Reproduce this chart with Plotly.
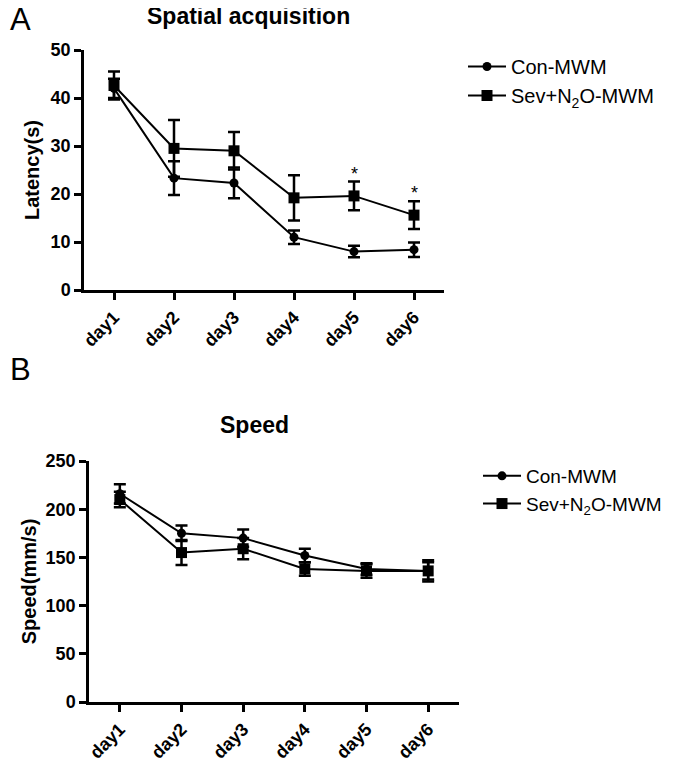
import plotly.graph_objects as go
from plotly.subplots import make_subplots

days = ["day1", "day2", "day3", "day4", "day5", "day6"]

# panel A: latency (s)
lat_con = [42.0, 23.3, 22.3, 11.0, 8.0, 8.4]
lat_con_err = [2.0, 3.5, 3.2, 1.4, 1.2, 1.5]
lat_sev = [42.6, 29.5, 29.0, 19.2, 19.6, 15.6]
lat_sev_err = [2.9, 5.9, 3.9, 4.7, 3.0, 2.9]
lat_star_days = ["day5", "day6"]

# panel B: speed (mm/s)
spd_con = [216, 175, 170, 152, 138, 136]
spd_con_err = [10, 8, 9, 7, 6, 11]
spd_sev = [210, 155, 159, 138, 136, 136]
spd_sev_err = [8, 13, 11, 7, 7, 9]

FONT = "Arial, Liberation Sans, sans-serif"
SEV = "Sev+N<sub>2</sub>O-MWM"

# page body has an 8px margin, so the figure is a bit smaller than the window
OFF = 8
W, H = 673 - OFF, 759 - OFF


def px(x):
    return (x - OFF) / W


def py(y):
    return 1 - (y - OFF) / H


fig = make_subplots(rows=2, cols=1)


def add_series(y, err, name, symbol, size, row, legend):
    fig.add_trace(go.Scatter(
        x=days, y=y, name=name, mode="lines+markers",
        line=dict(color="black", width=2),
        marker=dict(symbol=symbol, size=size, color="black"),
        error_y=dict(type="data", array=err, color="black", thickness=2.5, width=6),
        legend=legend,
    ), row=row, col=1)


add_series(lat_con, lat_con_err, "Con-MWM", "circle", 9, 1, "legend")
add_series(lat_sev, lat_sev_err, SEV, "square", 11, 1, "legend")
add_series(spd_con, spd_con_err, "Con-MWM", "circle", 9, 2, "legend2")
add_series(spd_sev, spd_sev_err, SEV, "square", 11, 2, "legend2")

# significance marks above the Sev error bars
for d in lat_star_days:
    i = days.index(d)
    fig.add_annotation(x=d, y=lat_sev[i] + lat_sev_err[i], xref="x", yref="y",
                       text="*", showarrow=False, yshift=8,
                       font=dict(family=FONT, size=18, color="black"))

axis_common = dict(
    showline=True, linecolor="black", linewidth=2.5, showgrid=False, zeroline=False,
    ticks="outside", ticklen=7, tickwidth=2.5, tickcolor="black", automargin=False,
    tickfont=dict(family=FONT, size=18, color="black", weight="bold"),
)
title_font = dict(family=FONT, size=20, color="black", weight="bold")

fig.update_xaxes(axis_common, range=[-0.5, 5.5], tickangle=-45)
fig.update_yaxes(axis_common)
fig.update_layout(
    xaxis=dict(domain=[px(84), px(444)]),
    yaxis=dict(domain=[py(290), py(50)], range=[0, 50], dtick=10,
               title=dict(text="Latency(s)", standoff=6, font=title_font)),
    xaxis2=dict(domain=[px(89), px(459)]),
    yaxis2=dict(domain=[py(702), py(461)], range=[0, 250], dtick=50,
                title=dict(text="Speed(mm/s)", standoff=4, font=title_font)),
    legend=dict(x=px(463), y=py(47), xanchor="left", yanchor="top", itemwidth=38,
                font=dict(family=FONT, size=20, color="black"), bgcolor="rgba(0,0,0,0)"),
    legend2=dict(x=px(478), y=py(457), xanchor="left", yanchor="top", itemwidth=38,
                 font=dict(family=FONT, size=19, color="black"), bgcolor="rgba(0,0,0,0)"),
    width=W, height=H,
    margin=dict(l=0, r=0, t=0, b=0),
    plot_bgcolor="white", paper_bgcolor="white",
    font=dict(family=FONT, color="black"),
    showlegend=True,
)

# titles and panel letters
fig.add_annotation(text="<b>Spatial acquisition</b>", x=px(248), y=py(16),
                   xref="paper", yref="paper", yanchor="middle", showarrow=False,
                   font=dict(family=FONT, size=23, color="black"))
fig.add_annotation(text="<b>Speed</b>", x=px(254), y=py(425),
                   xref="paper", yref="paper", yanchor="middle", showarrow=False,
                   font=dict(family=FONT, size=23, color="black"))
fig.add_annotation(text="A", x=0, y=py(19), xref="paper", yref="paper",
                   xanchor="left", yanchor="middle", showarrow=False,
                   font=dict(family=FONT, size=31, color="black"))
fig.add_annotation(text="B", x=0, y=py(369), xref="paper", yref="paper",
                   xanchor="left", yanchor="middle", showarrow=False,
                   font=dict(family=FONT, size=31, color="black"))

fig.write_html("out.html")
